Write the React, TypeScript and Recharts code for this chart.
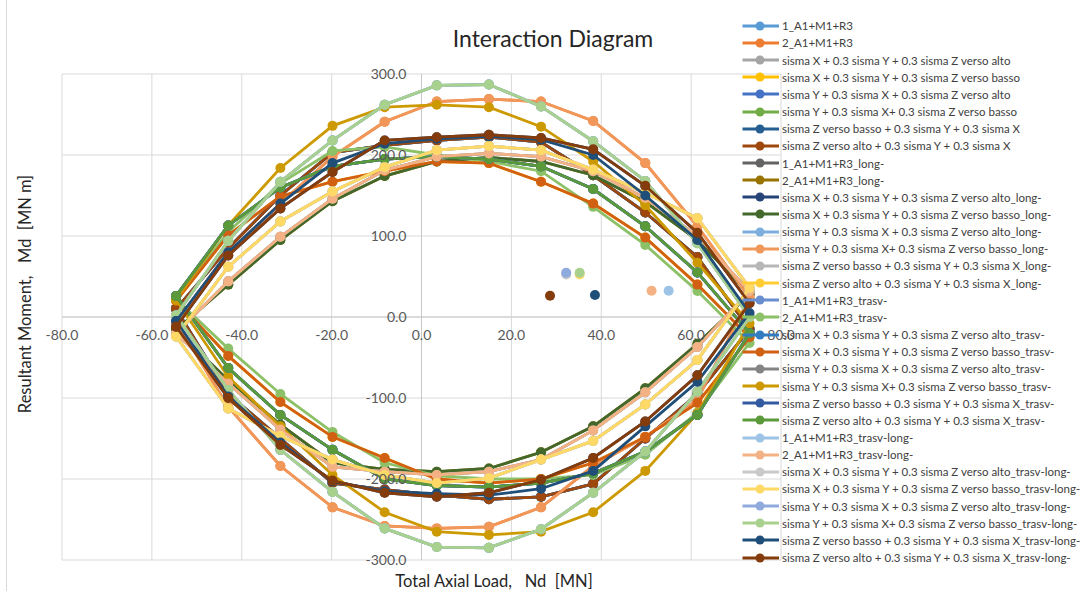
import { CartesianGrid, ReferenceDot, ReferenceLine, Scatter, ScatterChart, XAxis, YAxis } from 'recharts'

// axial load stations: upper branch left -> right, lower branch right -> left
const AXIAL_UPPER = [-54.6, -43.0, -31.4, -19.8, -8.2, 3.4, 15.0, 26.6, 38.2, 49.8, 61.4, 73.0]
const AXIAL_LOWER = [61.4, 49.8, 38.2, 26.6, 15.0, 3.4, -8.2, -19.8, -31.4, -43.0]

const X_TICKS = [-80, -60, -40, -20, 0, 20, 40, 60, 80]
const Y_TICKS = [-300, -200, -100, 0, 100, 200, 300]

// resisting moment, upper branch then lower branch (same order as the axial stations)
const mWide = [2, 94, 167, 218, 262, 286, 287, 260, 217, 168, 91, 0, -92, -166, -217, -262, -285, -284, -261, -216, -164, -90]
const mSalmon = [-6, 80, 140, 198, 241, 266, 269, 266, 242, 190, 112, 24, -102, -148, -184, -235, -259, -261, -258, -235, -184, -111]
const mGold = [21, 113, 184, 236, 259, 262, 259, 235, 192, 138, 67, -8, -119, -190, -241, -265, -269, -265, -241, -195, -135, -74]
const mBrown = [-12, 76, 134, 179, 218, 222, 225, 221, 207, 162, 104, 17, -72, -129, -174, -201, -217, -222, -217, -202, -158, -100]
const mNavy = [-5, 80, 140, 190, 214, 220, 223, 219, 200, 150, 95, 5, -80, -135, -190, -212, -220, -218, -215, -203, -155, -98]
const mRust = [10, 85, 150, 203, 212, 218, 222, 216, 175, 129, 74, -15, -95, -150, -206, -222, -225, -220, -213, -205, -150, -95]
const mYellow = [-24, 62, 118, 155, 185, 206, 211, 206, 182, 153, 122, 36, -53, -108, -153, -176, -199, -205, -195, -176, -147, -113]
const mPeach = [-20, 44, 99, 146, 181, 198, 202, 198, 180, 147, 100, 32, -37, -93, -140, -176, -191, -195, -191, -185, -139, -82]
const mOlive = [-16, 40, 95, 143, 174, 192, 197, 192, 175, 142, 95, 28, -33, -88, -135, -167, -187, -191, -188, -180, -133, -78]
const mGreen = [26, 113, 160, 186, 195, 198, 195, 186, 158, 112, 55, -20, -121, -166, -193, -205, -210, -208, -200, -164, -121, -63]
const mOrange = [20, 101, 149, 167, 180, 192, 190, 167, 140, 98, 40, -25, -106, -148, -180, -200, -205, -200, -174, -148, -105, -48]
const mLeaf = [22, 105, 165, 205, 210, 200, 192, 180, 136, 89, 32, -32, -118, -170, -195, -200, -200, -196, -180, -142, -95, -39]

const SERIES_NAMES = [
  '1_A1+M1+R3',
  '2_A1+M1+R3',
  'sisma X + 0.3 sisma Y + 0.3 sisma Z verso alto',
  'sisma X + 0.3 sisma Y + 0.3 sisma Z verso basso',
  'sisma Y + 0.3 sisma X + 0.3 sisma Z verso alto',
  'sisma Y + 0.3 sisma X+ 0.3 sisma Z verso basso',
  'sisma Z verso basso + 0.3 sisma Y + 0.3 sisma X',
  'sisma Z verso alto + 0.3 sisma Y + 0.3 sisma X',
  '1_A1+M1+R3_long-',
  '2_A1+M1+R3_long-',
  'sisma X + 0.3 sisma Y + 0.3 sisma Z verso alto_long-',
  'sisma X + 0.3 sisma Y + 0.3 sisma Z verso basso_long-',
  'sisma Y + 0.3 sisma X + 0.3 sisma Z verso alto_long-',
  'sisma Y + 0.3 sisma X+ 0.3 sisma Z verso basso_long-',
  'sisma Z verso basso + 0.3 sisma Y + 0.3 sisma X_long-',
  'sisma Z verso alto + 0.3 sisma Y + 0.3 sisma X_long-',
  '1_A1+M1+R3_trasv-',
  '2_A1+M1+R3_trasv-',
  'sisma X + 0.3 sisma Y + 0.3 sisma Z verso alto_trasv-',
  'sisma X + 0.3 sisma Y + 0.3 sisma Z verso basso_trasv-',
  'sisma Y + 0.3 sisma X + 0.3 sisma Z verso alto_trasv-',
  'sisma Y + 0.3 sisma X+ 0.3 sisma Z verso basso_trasv-',
  'sisma Z verso basso + 0.3 sisma Y + 0.3 sisma X_trasv-',
  'sisma Z verso alto + 0.3 sisma Y + 0.3 sisma X_trasv-',
  '1_A1+M1+R3_trasv-long-',
  '2_A1+M1+R3_trasv-long-',
  'sisma X + 0.3 sisma Y + 0.3 sisma Z verso alto_trasv-long-',
  'sisma X + 0.3 sisma Y + 0.3 sisma Z verso basso_trasv-long-',
  'sisma Y + 0.3 sisma X + 0.3 sisma Z verso alto_trasv-long-',
  'sisma Y + 0.3 sisma X+ 0.3 sisma Z verso basso_trasv-long-',
  'sisma Z verso basso + 0.3 sisma Y + 0.3 sisma X_trasv-long-',
  'sisma Z verso alto + 0.3 sisma Y + 0.3 sisma X_trasv-long-',
]

const SERIES_CURVES = [
  mRust, mSalmon, mYellow, mOrange, mRust, mWide, mRust, mRust,
  mPeach, mOlive, mBrown, mOlive, mYellow, mSalmon, mPeach, mYellow,
  mGreen, mLeaf, mGreen, mOrange, mGreen, mGold, mGreen, mGreen,
  mWide, mPeach, mYellow, mYellow, mWide, mWide, mNavy, mBrown,
]

const SERIES_COLORS = [
  '#5B9BD5', '#ED7D31', '#A5A5A5', '#FFC000', '#4472C4', '#70AD47', '#255E91', '#9E480E',
  '#636363', '#997300', '#264478', '#43682B', '#7CAFDD', '#F1975A', '#B7B7B7', '#FFCD33',
  '#698ED0', '#8CC168', '#327DC2', '#D26012', '#848484', '#CC9A00', '#335AA1', '#5A9A3A',
  '#9DC3E6', '#F4B183', '#C9C9C9', '#FFD966', '#8FAADC', '#A9D18E', '#1F4E79', '#843C0C',
]

// design actions (demand points) of the trasv-long- combinations
const DEMAND_SERIES = [24, 25, 26, 27, 28, 29, 30, 31]
const DEMAND_N = [55.0, 51.2, 32.2, 35.2, 32.2, 35.2, 38.6, 28.6]
const DEMAND_M = [32.5, 32.5, 52.5, 52.5, 54.7, 54.7, 27.2, 26.3]

const FONT = 'Lato, "Open Sans", sans-serif'

function loop(m: number[]) {
  const n = [...AXIAL_UPPER, ...AXIAL_LOWER]
  const pts = n.map((x, i) => ({ x, y: m[i] }))
  return [...pts, pts[0]]
}

const dot = (color: string) => (p: any) => <circle cx={p.cx} cy={p.cy} r={5} fill={color} />

function LegendBlock() {
  return (
    <div style={{ position: 'absolute', left: 738, top: 17.2, fontFamily: FONT, fontSize: 11.5, color: '#404040' }}>
      {SERIES_NAMES.map((name, i) => (
        <div key={name} style={{ height: 17.17, display: 'flex', alignItems: 'center', whiteSpace: 'nowrap' }}>
          <svg width={44} height={12} style={{ flex: 'none' }}>
            <line x1={4.5} x2={41} y1={6} y2={6} stroke={SERIES_COLORS[i]} strokeWidth={3} />
            <circle cx={22} cy={6} r={4.5} fill={SERIES_COLORS[i]} />
          </svg>
          <span>{name}</span>
        </div>
      ))}
    </div>
  )
}

export default function App() {
  const tickLabel = { fill: '#595959', fontSize: 14, fontFamily: FONT }
  return (
    <div style={{ position: 'absolute', left: 0, top: 0, width: 1089, height: 591, background: '#fff', overflow: 'hidden' }}>
      <div style={{ position: 'absolute', left: 6, top: 0, bottom: 0, width: 1, background: '#D9D9D9' }} />
      <ScatterChart width={1089} height={591} margin={{ top: 74, right: 308, bottom: 31, left: 62 }}>
        <XAxis type="number" dataKey="x" domain={[-80, 80]} ticks={X_TICKS} hide />
        <YAxis type="number" dataKey="y" domain={[-300, 300]} ticks={Y_TICKS} hide />
        <CartesianGrid stroke="#D9D9D9" verticalValues={X_TICKS} horizontalValues={Y_TICKS} />
        <ReferenceLine x={0} stroke="#C8C8C8" />
        <ReferenceLine y={0} stroke="#C8C8C8" />
        {X_TICKS.map((v) => (
          <ReferenceDot key={'xt' + v} x={v} y={0} r={0} fill="none" stroke="none"
            label={{ value: v.toFixed(1), position: 'bottom', offset: 13, ...tickLabel }} />
        ))}
        {Y_TICKS.map((v) => (
          <ReferenceDot key={'yt' + v} x={0} y={v} r={0} fill="none" stroke="none"
            label={{ value: v.toFixed(1), position: 'left', offset: 15, ...tickLabel }} />
        ))}
        {SERIES_NAMES.map((name, i) => (
          <Scatter
            key={name}
            name={name}
            data={loop(SERIES_CURVES[i])}
            fill={SERIES_COLORS[i]}
            line={{ stroke: SERIES_COLORS[i], strokeWidth: 2.8 }}
            shape={dot(SERIES_COLORS[i])}
            isAnimationActive={false}
          />
        ))}
        {DEMAND_SERIES.map((s, i) => (
          <Scatter
            key={'d' + i}
            name={SERIES_NAMES[s] + ' Ed'}
            data={[{ x: DEMAND_N[i], y: DEMAND_M[i] }]}
            fill={SERIES_COLORS[s]}
            shape={dot(SERIES_COLORS[s])}
            legendType="none"
            isAnimationActive={false}
          />
        ))}
      </ScatterChart>
      <div style={{ position: 'absolute', left: 553, top: 27, transform: 'translateX(-50%)', fontFamily: FONT, fontSize: 23, lineHeight: 1, color: '#262626', whiteSpace: 'nowrap' }}>
        Interaction Diagram
      </div>
      <div style={{ position: 'absolute', left: 494, top: 573, transform: 'translateX(-50%)', fontFamily: FONT, fontSize: 16.5, lineHeight: 1, color: '#262626', whiteSpace: 'pre' }}>
        {'Total Axial Load,   Nd  [MN]'}
      </div>
      <div style={{ position: 'absolute', left: 25, top: 294, transform: 'translate(-50%, -50%) rotate(-90deg)', fontFamily: FONT, fontSize: 16.5, lineHeight: 1, color: '#262626', whiteSpace: 'pre' }}>
        {'Resultant Moment,   Md  [MN m]'}
      </div>
      <LegendBlock />
    </div>
  )
}
